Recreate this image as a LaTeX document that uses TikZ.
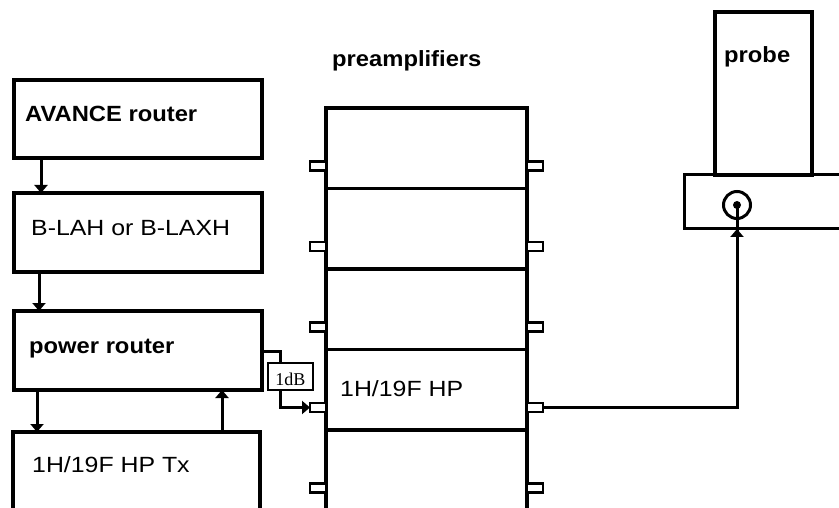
\documentclass[tikz,border=0pt]{standalone}
\usepackage{fontspec}
\usetikzlibrary{arrows.meta}
\newfontfamily\rgfont{Liberation Sans}[FakeStretch=1.13]
\newfontfamily\bdfont{Liberation Sans Bold}[FakeStretch=1.08]
\newfontfamily\dbfont{Liberation Serif}
\tikzset{
  box/.style={draw, line width=3.5pt, inner sep=0pt, outer sep=0pt, anchor=north west},
  port/.style={draw, line width=2.5pt, inner sep=0pt, outer sep=0pt, anchor=north west, minimum width=16pt, minimum height=9pt, fill=white},
  bdlabel/.style={anchor=base west, inner sep=0pt, font=\bdfont\fontsize{22}{26}\selectfont},
  rglabel/.style={anchor=base west, inner sep=0pt, font=\rgfont\fontsize{22}{26}\selectfont},
  conn/.style={line width=3pt},
  arr/.style={line width=3pt, -{Triangle[width=13pt,length=8pt]}},
}
\begin{document}
\begin{tikzpicture}[x=1pt,y=-1pt]
\useasboundingbox (0,0) rectangle (839,508);
% left chain
\node[box, minimum width=248pt, minimum height=78pt] (avance) at (14,80) {};
\node[box, minimum width=248pt, minimum height=79pt] (blah) at (14,193) {};
\node[box, minimum width=248pt, minimum height=79pt] (power) at (14,311) {};
\node[box, minimum width=247pt, minimum height=100pt] (tx) at (13,432) {};
\node[bdlabel] (tavance) at (25,122) {AVANCE router};
\node[rglabel] (tblah) at (31,236) {B-LAH or B-LAXH};
\node[bdlabel] (tpower) at (29,353) {power router};
\node[rglabel] (ttx) at (32,472) {1H/19F HP Tx};
% preamplifiers
\node[bdlabel] (tpre) at (332,67) {preamplifiers};
\foreach \i/\y in {1/108,2/188.5,3/269,4/349.5,5/430}{
  \node[box, minimum width=201pt, minimum height=80.5pt] (p\i) at (326,\y) {};
  \node[port] (pl\i) at (310,\y+53.5) {};
  \node[port] (pr\i) at (527,\y+53.5) {};
}
\node[rglabel] (tp4) at (340,396) {1H/19F HP};
% 1dB attenuator
\node[draw, line width=2.5pt, inner sep=0pt, outer sep=0pt, anchor=north west, minimum width=45pt, minimum height=27pt] (db) at (268,363) {};
\node[anchor=base, inner sep=0pt, font=\dbfont\fontsize{18}{20}\selectfont] (tdb) at (db.center |- 0,385) {1dB};
% probe
\node[box, minimum width=97pt, minimum height=163pt] (probe) at (715,12) {};
\node[box, line width=3pt, minimum width=170pt, minimum height=54pt] (base) at (684,175) {};
\draw[line width=3.5pt] (probe.south west) -- (probe.south east);
\node[bdlabel] (tprobe) at (724,63) {probe};
\node[draw, circle, line width=3pt, minimum size=27pt, inner sep=0pt] (ring) at (737,205) {};
\node[circle, fill, minimum size=8pt, inner sep=0pt] (dot) at (737,205) {};
% connectors
\coordinate (xa) at (41,0);
\coordinate (xb) at (39,0);
\coordinate (xc) at (37,0);
\coordinate (xd) at (222,0);
\coordinate (xe) at (280,0);
\coordinate (ya) at (0,351);
\draw[arr] (avance.south -| xa) -- (blah.north -| xa);
\draw[arr] (blah.south -| xb) -- (power.north -| xb);
\draw[arr] (power.south -| xc) -- (tx.north -| xc);
\draw[arr] (tx.north -| xd) -- (power.south -| xd);
\draw[conn] (power.east |- ya) -- (xe |- ya) -- (db.north -| xe);
\draw[arr] (db.south -| xe) |- (pl4.west);
\draw[conn] (pr4.east) -| (dot.center);
\draw[arr] (pr4.east -| dot) -- (base.south -| dot);
\end{tikzpicture}
\end{document}
